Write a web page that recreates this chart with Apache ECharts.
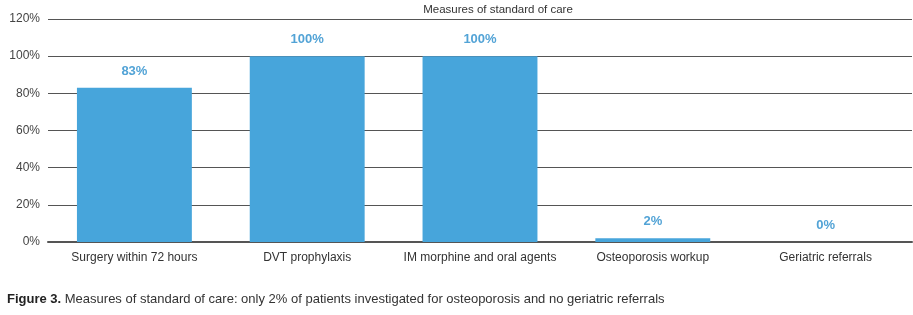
<!DOCTYPE html>
<html>
<head>
<meta charset="utf-8">
<script src="https://cdn.jsdelivr.net/npm/echarts@6/dist/echarts.min.js"></script>
<style>
  html, body { margin: 0; padding: 0; background: #fff; }
  #chart { width: 913px; height: 315px; }
</style>
</head>
<body>
<div id="chart"></div>
<script>
// categories and values
var measures = ['Surgery within 72 hours', 'DVT prophylaxis', 'IM morphine and oral agents', 'Osteoporosis workup', 'Geriatric referrals'];
var percentages = [83, 100, 100, 2, 0];
var yTicks = [0, 20, 40, 60, 80, 100, 120];

var chartTitle = 'Measures of standard of care';
var captionLead = 'Figure 3.';
var captionText = ' Measures of standard of care: only 2% of patients investigated for osteoporosis and no geriatric referrals';

var fontName = '"Liberation Sans", Arial, Helvetica, sans-serif';

var myChart = echarts.init(document.getElementById('chart'));
var option = {
    animation: false,
    textStyle: { fontFamily: fontName },
    title: [{
        text: chartTitle,
        left: 493,
        top: -1,
        textAlign: 'center',
        textStyle: { fontSize: 11.5, fontWeight: 'normal', color: '#333', fontFamily: fontName }
    }, {
        text: '{b|' + captionLead + '}{n|' + captionText + '}',
        left: 2,
        top: 288,
        textStyle: {
            fontWeight: 'normal',
            fontSize: 13,
            rich: {
                b: { fontSize: 13, fontWeight: 'bold', color: '#222', fontFamily: fontName },
                n: { fontSize: 13, fontWeight: 'normal', color: '#333', fontFamily: fontName }
            }
        }
    }],
    grid: { left: 48, right: 1, top: 19, bottom: 73 },
    xAxis: {
        type: 'category',
        data: measures,
        axisTick: { show: false },
        axisLine: { lineStyle: { color: '#555', width: 2 } },
        axisLabel: { interval: 0, color: '#333', fontSize: 12, margin: 10, fontFamily: fontName }
    },
    yAxis: {
        type: 'value',
        min: yTicks[0],
        max: yTicks[yTicks.length - 1],
        interval: 20,
        axisLine: { show: false },
        axisTick: { show: false },
        axisLabel: {
            color: '#444', fontSize: 12, margin: 8, fontFamily: fontName,
            formatter: function(v) { return v + '%'; }
        },
        splitLine: { lineStyle: { color: '#555', width: 1 } }
    },
    series: [{
        type: 'bar',
        data: percentages,
        barWidth: '66.5%',
        itemStyle: { color: '#47a5db' },
        label: {
            show: true,
            position: 'top',
            distance: 10,
            color: '#52a3d6',
            fontSize: 13,
            fontWeight: 'bold',
            fontFamily: fontName,
            formatter: '{c}%'
        }
    }]
};
myChart.setOption(option);
</script>
</body>
</html>
